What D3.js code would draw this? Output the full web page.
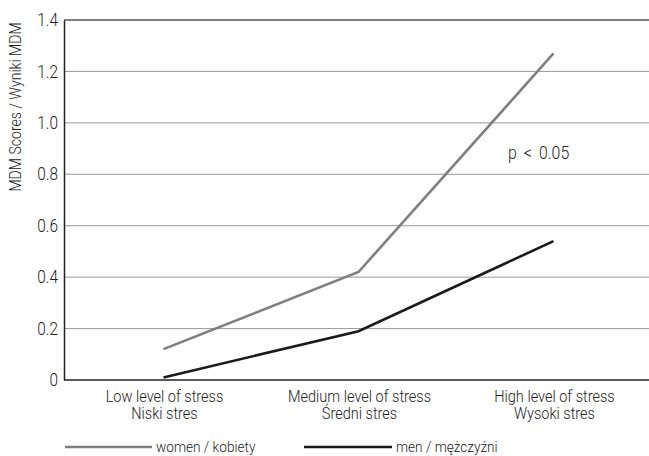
<!DOCTYPE html>
<html>
<head>
<meta charset="utf-8">
<script src="https://cdn.jsdelivr.net/npm/d3@7.9.0/dist/d3.min.js"></script>
<style>
  body { margin: 0; background: #fff; }
  svg text { font-family: Roboto, "Liberation Sans", sans-serif; font-weight: 300; fill: #222; }
</style>
</head>
<body>
<svg id="chart" width="649" height="456"></svg>
<script>
const categories = [
  ["Low level of stress", "Niski stres"],
  ["Medium level of stress", "Średni stres"],
  ["High level of stress", "Wysoki stres"]
];
const women = [0.12, 0.42, 1.27];
const men = [0.01, 0.19, 0.54];
const yTicks = [0, 0.2, 0.4, 0.6, 0.8, 1.0, 1.2, 1.4];
const seriesNames = ["women / kobiety", "men / mężczyźni"];

const SX = 0.88; // horizontal squeeze to mimic the condensed face

const margin = { top: 20, right: 0, bottom: 76, left: 64 };
const width = 649 - margin.left - margin.right;
const height = 456 - margin.top - margin.bottom;

const svg = d3.select("#chart");
const g = svg.append("g").attr("transform", `translate(${margin.left},${margin.top})`);

const x = d3.scaleBand().domain(d3.range(categories.length)).range([0, width]);
const y = d3.scaleLinear().domain([0, 1.4]).range([height, 0]);

// condensed text helper
function label(parent, px, py, str, size, anchor, rot) {
  return parent.append("text")
    .attr("transform", `translate(${px},${py})` + (rot ? ` rotate(${rot})` : "") + ` scale(${SX},1)`)
    .attr("text-anchor", anchor || "start")
    .style("font-size", size + "px")
    .text(str);
}

// gridlines
g.selectAll(".grid")
  .data(yTicks.filter(d => d > 0))
  .enter()
  .append("line")
  .attr("x1", 0).attr("x2", width)
  .attr("y1", d => y(d)).attr("y2", d => y(d))
  .attr("stroke", d => d === 1.4 ? "#555" : "#999")
  .attr("stroke-width", d => d === 1.4 ? 1.5 : 1);

// y axis
const yAxis = g.append("g")
  .call(d3.axisLeft(y).tickValues(yTicks).tickSize(0).tickPadding(6)
    .tickFormat(d => d === 0 ? "0" : d3.format(".1f")(d)));
yAxis.select(".domain").attr("stroke", "#222").attr("stroke-width", 1.5);
yAxis.selectAll(".tick text")
  .style("font-size", "17.5px")
  .attr("fill", "#222")
  .attr("x", -6 / SX)
  .attr("transform", `scale(${SX},1)`);

// x baseline
g.append("line")
  .attr("x1", 0).attr("x2", width)
  .attr("y1", height).attr("y2", height)
  .attr("stroke", "#222").attr("stroke-width", 1.5);

// category labels
categories.forEach((c, i) => {
  const t = label(g, x(i) + x.bandwidth() / 2 + 3, height + 22, null, 16.5, "middle");
  t.selectAll("tspan")
    .data(c)
    .enter()
    .append("tspan")
    .attr("x", 0)
    .attr("dy", (d, j) => j === 0 ? 0 : 17.5)
    .text(d => d);
});

// lines
const line = d3.line()
  .x((d, i) => x(i) + x.bandwidth() / 2 + 2)
  .y(d => y(d));

g.append("path").datum(women)
  .attr("d", line).attr("fill", "none")
  .attr("stroke", "#7f7f7f").attr("stroke-width", 2.6);
g.append("path").datum(men)
  .attr("d", line).attr("fill", "none")
  .attr("stroke", "#1a1a1a").attr("stroke-width", 2.6);

// annotation
label(g, 444, 139, "p \u2009<\u2009 0.05", 18, "start");

// y axis title
label(svg, 21, 107, "MDM Scores / Wyniki MDM", 16, "middle", -90);

// legend
const legendItems = [
  { name: seriesNames[0], color: "#7f7f7f", x1: 65, x2: 152 },
  { name: seriesNames[1], color: "#1a1a1a", x1: 304, x2: 392 }
];
legendItems.forEach(d => {
  svg.append("line")
    .attr("x1", d.x1).attr("x2", d.x2)
    .attr("y1", 447).attr("y2", 447)
    .attr("stroke", d.color).attr("stroke-width", 2.6);
  label(svg, d.x2 + 4, 452, d.name, 15.5, "start");
});
</script>
</body>
</html>
